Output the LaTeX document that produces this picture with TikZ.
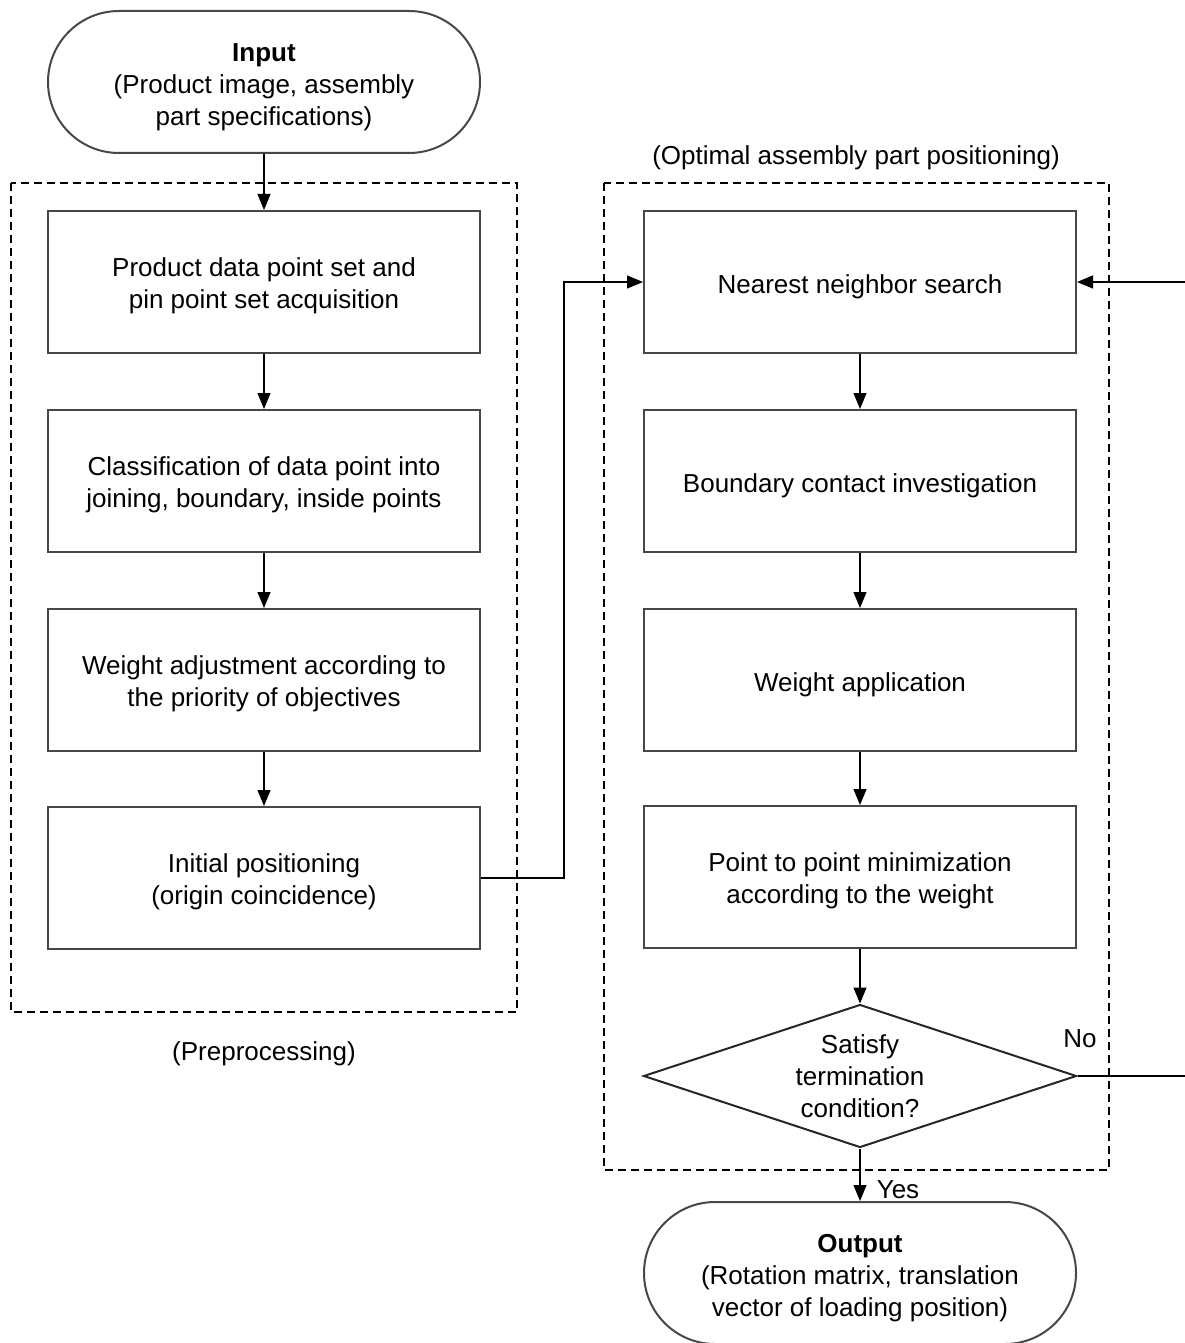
\documentclass[tikz,border=0pt]{standalone}
\usepackage{fontspec}
\setmainfont{Liberation Sans}
\usetikzlibrary{arrows.meta,shapes.misc,shapes.geometric}
\newcommand{\fstb}{\rule{0pt}{26pt}}
\newcommand{\fstt}{\rule{0pt}{28pt}}
\begin{document}
\begin{tikzpicture}[x=1pt,y=-1pt,
  every node/.style={font=\fontsize{26}{32}\selectfont},
  procbox/.style={draw=black!72,line width=2pt,minimum width=432pt,minimum height=142pt,align=center,inner sep=0pt},
  term/.style={draw=black!72,line width=2pt,rounded rectangle,minimum width=432pt,minimum height=142pt,align=center,inner sep=0pt},
  decision/.style={draw=black!85,line width=2pt,diamond,aspect=3.03,minimum width=433pt,minimum height=143pt,align=center,inner sep=0pt},
  conn/.style={draw=black,line width=1.2pt},
  arr/.style={conn,-{Triangle[length=16pt,width=13pt]}},
  dashbox/.style={draw=black,line width=2pt,dash pattern=on 8pt off 5pt},
  lbl/.style={inner sep=0pt}
]
\useasboundingbox (0,0) rectangle (1185,1343);
% dashed group frames
\draw[dashbox] (11,183) rectangle (517,1012);
\draw[dashbox] (604,183) rectangle (1109,1170);
\node[lbl] (prelbl) at (264,1054) {(Preprocessing)};
\node[lbl] (optlbl) at (856,158) {(Optimal assembly part positioning)};

% left column
\node[term] (in) at (264,82) {\fstt\textbf{Input}\\(Product image, assembly\\part specifications)};
\node[procbox] (b1) at (264,282) {\fstb Product data point set and\\pin point set acquisition};
\node[procbox] (b2) at (264,481) {\fstb Classification of data point into\\joining, boundary, inside points};
\node[procbox] (b3) at (264,680) {\fstb Weight adjustment according to\\the priority of objectives};
\node[procbox] (b4) at (264,878) {\fstb Initial positioning\\(origin coincidence)};

% right column
\node[procbox] (r1) at (860,282) {\rule{0pt}{28pt}Nearest neighbor search};
\node[procbox] (r2) at (860,481) {\rule{0pt}{28pt}Boundary contact investigation};
\node[procbox] (r3) at (860,680) {\rule{0pt}{28pt}Weight application};
\node[procbox] (r4) at (860,877) {\fstb Point to point minimization\\according to the weight};
\node[decision] (dec) at (860,1076) {Satisfy\\termination\\condition?};
\node[term] (out) at (860,1273) {\fstt\textbf{Output}\\(Rotation matrix, translation\\vector of loading position)};

% connectors
\draw[arr] (in.south) -- (b1.north);
\draw[arr] (b1.south) -- (b2.north);
\draw[arr] (b2.south) -- (b3.north);
\draw[arr] (b3.south) -- (b4.north);
\draw[arr] (b4.east) -- ++(83,0) |- (r1.west);
\draw[arr] (r1.south) -- (r2.north);
\draw[arr] (r2.south) -- (r3.north);
\draw[arr] (r3.south) -- (r4.north);
\draw[arr] (r4.south) -- (dec.north);
\draw[arr] (dec.south) -- (out.north);
\coordinate (fb) at (1186,1076);
\draw[arr] (dec.east) -- (fb) |- (r1.east);

\node[lbl] (yes) at (898,1190) {Yes};
\node[lbl] (no) at (1080,1039) {No};
\end{tikzpicture}
\end{document}
